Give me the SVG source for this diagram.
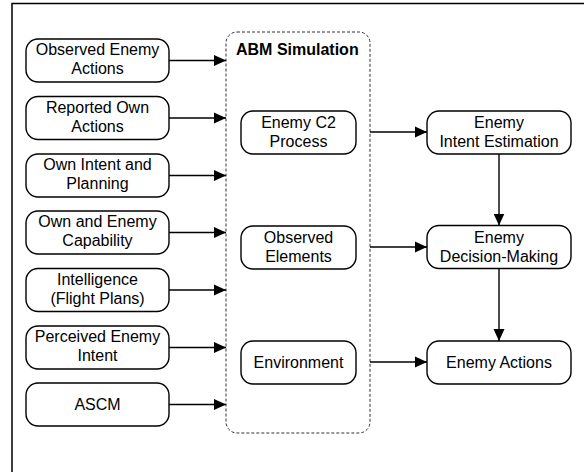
<svg xmlns="http://www.w3.org/2000/svg" width="584" height="472" viewBox="0 0 584 472">
<defs>
<style>
.frame{fill:none;stroke:#000;stroke-width:1.5}
.node rect{fill:#fff;stroke:#000;stroke-width:1.4}
.node text{font-family:"Liberation Sans",Arial,sans-serif;font-size:16px;fill:#000;text-anchor:middle}
.group rect{fill:none;stroke:#333;stroke-width:1;stroke-dasharray:3,2}
.title{font-family:"Liberation Sans",Arial,sans-serif;font-size:16px;font-weight:bold;fill:#000}
.edges line{stroke:#000;stroke-width:1.4}
</style>
<marker id="ah" markerWidth="13" markerHeight="12" refX="12" refY="6" orient="auto" markerUnits="userSpaceOnUse">
<path d="M0,0.5 L12,6 L0,11.5 Z" fill="#000"/>
</marker>
</defs>
<rect width="584" height="472" fill="#fff"/>
<rect class="frame" x="12" y="3.5" width="620" height="520"/>

<g id="abm" class="group">
<rect x="226" y="32" width="144" height="401" rx="11" ry="11"/>
<text class="title" x="236" y="55">ABM Simulation</text>
</g>

<g id="n1" class="node"><rect x="26" y="39" width="143" height="43" rx="12"/><text x="97.5" y="55">Observed Enemy</text><text x="97.5" y="74">Actions</text></g>
<g id="n2" class="node"><rect x="26" y="96.5" width="143" height="43" rx="12"/><text x="97.5" y="112.5">Reported Own</text><text x="97.5" y="131.5">Actions</text></g>
<g id="n3" class="node"><rect x="26" y="154" width="143" height="43" rx="12"/><text x="97.5" y="170">Own Intent and</text><text x="97.5" y="189">Planning</text></g>
<g id="n4" class="node"><rect x="26" y="211" width="143" height="43" rx="12"/><text x="97.5" y="227">Own and Enemy</text><text x="97.5" y="246">Capability</text></g>
<g id="n5" class="node"><rect x="26" y="268.5" width="143" height="43" rx="12"/><text x="97.5" y="284.5">Intelligence</text><text x="97.5" y="303.5">(Flight Plans)</text></g>
<g id="n6" class="node"><rect x="26" y="326" width="143" height="43" rx="12"/><text x="97.5" y="342">Perceived Enemy</text><text x="97.5" y="361">Intent</text></g>
<g id="n7" class="node"><rect x="26" y="383" width="143" height="43" rx="12"/><text x="97.5" y="410">ASCM</text></g>

<g id="m1" class="node"><rect x="241" y="111" width="115" height="43" rx="12"/><text x="298.5" y="128">Enemy C2</text><text x="298.5" y="147">Process</text></g>
<g id="m2" class="node"><rect x="241" y="226" width="115" height="43" rx="12"/><text x="298.5" y="243">Observed</text><text x="298.5" y="262">Elements</text></g>
<g id="m3" class="node"><rect x="241" y="341" width="115" height="43" rx="12"/><text x="298.5" y="367.5">Environment</text></g>

<g id="r1" class="node"><rect x="427" y="111" width="144" height="43" rx="12"/><text x="499" y="128">Enemy</text><text x="499" y="147">Intent Estimation</text></g>
<g id="r2" class="node"><rect x="427" y="225.5" width="144" height="43" rx="12"/><text x="499" y="242.5">Enemy</text><text x="499" y="261.5">Decision-Making</text></g>
<g id="r3" class="node"><rect x="427" y="341" width="144" height="43" rx="12"/><text x="499" y="367.5">Enemy Actions</text></g>

<g id="connectors" class="edges">
<line x1="169" y1="60.5" x2="226" y2="60.5" marker-end="url(#ah)"/>
<line x1="169" y1="118" x2="226" y2="118" marker-end="url(#ah)"/>
<line x1="169" y1="175.5" x2="226" y2="175.5" marker-end="url(#ah)"/>
<line x1="169" y1="232.5" x2="226" y2="232.5" marker-end="url(#ah)"/>
<line x1="169" y1="290" x2="226" y2="290" marker-end="url(#ah)"/>
<line x1="169" y1="347.5" x2="226" y2="347.5" marker-end="url(#ah)"/>
<line x1="169" y1="404.5" x2="226" y2="404.5" marker-end="url(#ah)"/>
<line x1="370" y1="132" x2="427" y2="132" marker-end="url(#ah)"/>
<line x1="370" y1="247" x2="427" y2="247" marker-end="url(#ah)"/>
<line x1="370" y1="362" x2="427" y2="362" marker-end="url(#ah)"/>
<line x1="499" y1="154" x2="499" y2="225.5" marker-end="url(#ah)"/>
<line x1="499" y1="268.5" x2="499" y2="341" marker-end="url(#ah)"/>
</g>
</svg>
